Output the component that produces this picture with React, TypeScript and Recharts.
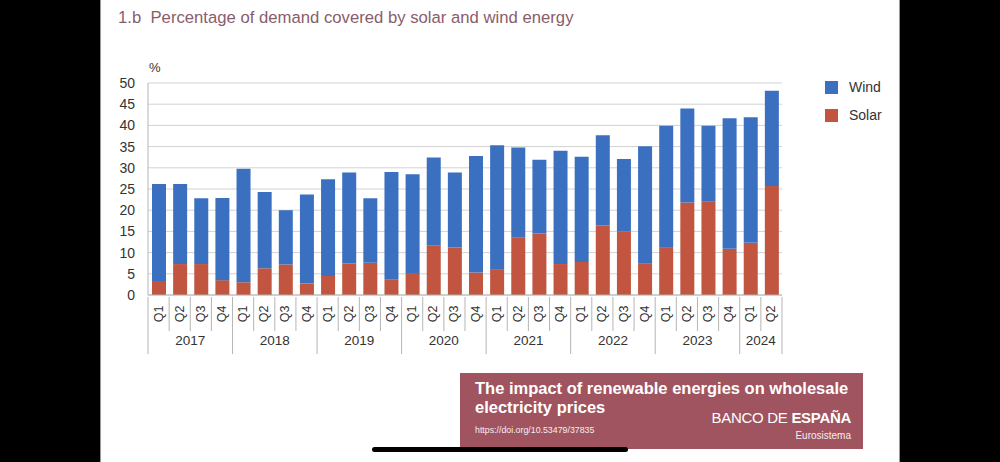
import React from 'react';
import { BarChart, Bar, XAxis, YAxis, CartesianGrid, Legend } from 'recharts';

const CATEGORIES = [
    '2017 Q1', '2017 Q2', '2017 Q3', '2017 Q4',
    '2018 Q1', '2018 Q2', '2018 Q3', '2018 Q4',
    '2019 Q1', '2019 Q2', '2019 Q3', '2019 Q4',
    '2020 Q1', '2020 Q2', '2020 Q3', '2020 Q4',
    '2021 Q1', '2021 Q2', '2021 Q3', '2021 Q4',
    '2022 Q1', '2022 Q2', '2022 Q3', '2022 Q4',
    '2023 Q1', '2023 Q2', '2023 Q3', '2023 Q4',
    '2024 Q1', '2024 Q2',
];

const SOLAR = [
    3.3, 7.3, 7.3, 3.5, 3.0, 6.3, 7.2, 2.7, 4.5, 7.4, 7.6, 3.6, 5.2, 11.7, 11.2,
    5.3, 6.1, 13.5, 14.5, 7.3, 7.8, 16.4, 14.9, 7.5, 11.3, 21.8, 22.0, 10.9, 12.3, 25.7,
];

const WIND = [
    22.9, 18.9, 15.5, 19.4, 26.8, 18.0, 12.8, 21.0, 22.8, 21.5, 15.2, 25.4, 23.3, 20.7, 17.7,
    27.5, 29.2, 21.3, 17.4, 26.7, 24.8, 21.3, 17.2, 27.6, 28.6, 22.2, 17.9, 30.8, 29.6, 22.5,
];

const Y_TICKS = [0, 5, 10, 15, 20, 25, 30, 35, 40, 45, 50];

const WIND_COLOR = '#3b70c1';
const SOLAR_COLOR = '#c1553f';
const FONT = '"Liberation Sans", Arial, sans-serif';

const CHART_W = 800;
const CHART_H = 462;
const MARGIN = { top: 83, right: 118, bottom: 107, left: 0 };
const Y_AXIS_W = 48;
const PLOT_W = CHART_W - MARGIN.left - MARGIN.right - Y_AXIS_W;
const BAND = PLOT_W / CATEGORIES.length;

const data = CATEGORIES.map((c, i) => {
    const [year, q] = c.split(' ');
    return { name: c, year, q, solar: SOLAR[i], wind: WIND[i] };
});

const QuarterTick = (props: any) => {
    const { x, y, payload } = props;
    const index = props.index ?? payload.index;
    const row = data[index];
    if (!row) return null;
    const left = x - BAND / 2;
    const yearStart = index === 0 || data[index - 1].year !== row.year;
    const last = index === data.length - 1;
    const count = data.filter((d) => d.year === row.year).length;
    return (
        <g>
            <line x1={left} x2={left} y1={y} y2={y + (yearStart ? 57 : 34)} stroke="#b5b5b5" />
            {last && <line x1={x + BAND / 2} x2={x + BAND / 2} y1={y} y2={y + 57} stroke="#b5b5b5" />}
            <text
                transform={`translate(${x},${y + 17}) rotate(-90)`}
                textAnchor="middle"
                dominantBaseline="central"
                fontSize={12.5}
                fill="#333"
                fontFamily={FONT}
            >
                {row.q}
            </text>
            {yearStart && (
                <text
                    x={left + (count * BAND) / 2}
                    y={y + 48}
                    textAnchor="middle"
                    fontSize={13.5}
                    fill="#333"
                    fontFamily={FONT}
                >
                    {row.year}
                </text>
            )}
        </g>
    );
};

const LegendContent = (props: any) => {
    const items = [...(props.payload || [])].reverse();
    return (
        <div style={{ fontFamily: FONT, fontSize: 14, color: '#333' }}>
            {items.map((it: any) => (
                <div key={it.value} style={{ display: 'flex', alignItems: 'center', height: 28 }}>
                    <span style={{ width: 13, height: 13, background: it.color, display: 'inline-block', marginRight: 11 }} />
                    <span>{it.value}</span>
                </div>
            ))}
        </div>
    );
};

export default function App() {
    return (
        <div style={{ position: 'absolute', left: 0, top: 0, width: 1000, height: 462, background: '#000', overflow: 'hidden' }}>
            <div
                style={{
                    position: 'absolute',
                    left: 100,
                    top: 0,
                    width: 798,
                    height: 462,
                    background: '#fff',
                    borderLeft: '1px solid #9a9a9a',
                    borderRight: '1px solid #9a9a9a',
                }}
            />
            <div
                style={{
                    position: 'absolute',
                    left: 118,
                    top: 8,
                    fontFamily: FONT,
                    fontSize: 16.7,
                    color: '#8a5c6b',
                    whiteSpace: 'pre',
                }}
            >
                {'1.b  Percentage of demand covered by solar and wind energy'}
            </div>
            <div style={{ position: 'absolute', left: 149, top: 60, fontFamily: FONT, fontSize: 13, color: '#333' }}>%</div>
            <div style={{ position: 'absolute', left: 100, top: 0 }}>
                <BarChart width={CHART_W} height={CHART_H} data={data} margin={MARGIN}>
                    <CartesianGrid vertical={false} stroke="#d2d2d2" />
                    <XAxis
                        dataKey="name"
                        interval={0}
                        height={60}
                        tickSize={0}
                        tickLine={false}
                        axisLine={{ stroke: '#b5b5b5' }}
                        tick={<QuarterTick />}
                    />
                    <YAxis
                        width={Y_AXIS_W}
                        domain={[0, 50]}
                        ticks={Y_TICKS}
                        interval={0}
                        tickSize={0}
                        tickMargin={13}
                        tickLine={false}
                        axisLine={{ stroke: '#b5b5b5' }}
                        tick={{ fontSize: 14, fill: '#333', fontFamily: FONT }}
                    />
                    <Legend
                        layout="horizontal"
                        align="center"
                        verticalAlign="middle"
                        content={<LegendContent />}
                        wrapperStyle={{ position: 'absolute', left: 725, top: 73, width: 90, height: 60 }}
                    />
                    <Bar dataKey="solar" name="Solar" stackId="a" fill={SOLAR_COLOR} barSize={14} isAnimationActive={false} />
                    <Bar dataKey="wind" name="Wind" stackId="a" fill={WIND_COLOR} barSize={14} isAnimationActive={false} />
                </BarChart>
            </div>
            <div
                style={{
                    position: 'absolute',
                    left: 460,
                    top: 373,
                    width: 403,
                    height: 76,
                    background: '#a0545f',
                    color: '#fff',
                    fontFamily: FONT,
                }}
            >
                <div style={{ position: 'absolute', left: 15, top: 6, fontSize: 16.5, fontWeight: 700, lineHeight: '19px', whiteSpace: 'pre' }}>
                    The impact of renewable energies on wholesale
                    <br />
                    electricity prices
                </div>
                <div style={{ position: 'absolute', left: 15, top: 52, fontSize: 8.8, opacity: 0.9 }}>
                    https://doi.org/10.53479/37835
                </div>
                <div style={{ position: 'absolute', right: 12, top: 36, fontSize: 15, whiteSpace: 'pre', letterSpacing: -0.3 }}>
                    <span style={{ fontWeight: 300 }}>BANCO DE </span>
                    <span style={{ fontWeight: 700 }}>ESPAÑA</span>
                </div>
                <div style={{ position: 'absolute', right: 12, top: 57, fontSize: 10, opacity: 0.9 }}>Eurosistema</div>
            </div>
            <div
                style={{
                    position: 'absolute',
                    left: 372,
                    top: 447,
                    width: 256,
                    height: 5,
                    borderRadius: 3,
                    background: '#000',
                }}
            />
        </div>
    );
}
